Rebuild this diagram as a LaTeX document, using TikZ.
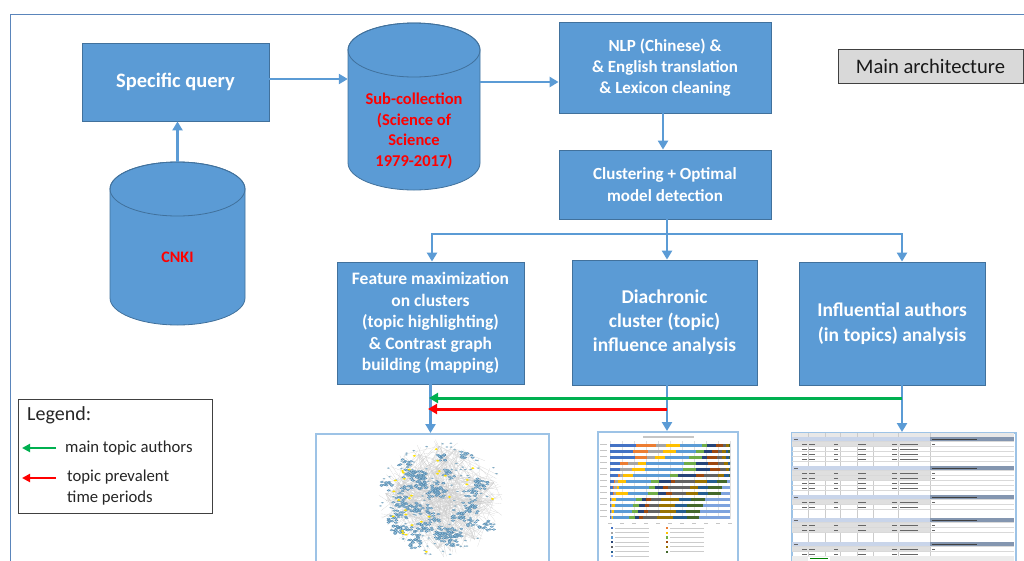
\documentclass[tikz,border=0pt]{standalone}
\usepackage{fontspec}
\setmainfont{Carlito}
\usetikzlibrary{arrows.meta}
\definecolor{boxfill}{HTML}{5B9BD5}
\definecolor{boxborder}{HTML}{41719C}
\definecolor{arrowblue}{HTML}{5B9BD5}
\definecolor{frameblue}{HTML}{5A85BB}
\definecolor{shotframe}{HTML}{9DC3E6}
\definecolor{greenarr}{HTML}{00B050}
\definecolor{redarr}{HTML}{FF0000}
\definecolor{legborder}{HTML}{404040}
\definecolor{maingrey}{HTML}{D9D9D9}
\definecolor{netblue}{HTML}{9CCBE8}
\definecolor{netdark}{HTML}{4D7FA3}
\definecolor{col1}{HTML}{4472C4}
\definecolor{col2}{HTML}{ED7D31}
\definecolor{col3}{HTML}{A5A5A5}
\definecolor{col4}{HTML}{FFC000}
\definecolor{col5}{HTML}{5B9BD5}
\definecolor{col6}{HTML}{70AD47}
\definecolor{col7}{HTML}{264478}
\definecolor{col8}{HTML}{9E480E}
\definecolor{col9}{HTML}{636363}
\definecolor{col10}{HTML}{997300}
\definecolor{col11}{HTML}{255E91}
\definecolor{col12}{HTML}{43682B}
\definecolor{col13}{HTML}{7EA3DE}
\definecolor{tabhead}{HTML}{C9D5EA}
\definecolor{tabdark}{HTML}{8496B0}
\newcommand{\mycyl}[5]{%
  \filldraw[fill=boxfill, draw=boxborder, line width=0.8pt]
    ({#1-#4},{#2+#5}) -- ({#1-#4},{#3-#5})
    arc[start angle=180,end angle=0,x radius=#4,y radius=#5]
    -- ({#1+#4},{#2+#5})
    arc[start angle=0,end angle=-180,x radius=#4,y radius=#5] -- cycle;
  \draw[boxborder, line width=0.8pt] (#1,{#2+#5}) ellipse [x radius=#4, y radius=#5];
}
\tikzset{
  box/.style={draw=boxborder, fill=boxfill, line width=0.8pt, text=white,
    font=\bfseries, align=center, inner sep=0pt},
  arr/.style={draw=arrowblue, line width=2.6pt, -{Triangle[length=9pt,width=10pt]}},
  plainline/.style={draw=arrowblue, line width=2.6pt},
  garr/.style={draw=greenarr, line width=3pt, -{Triangle[length=9pt,width=10pt]}},
  rarr/.style={draw=redarr, line width=3pt, -{Triangle[length=9pt,width=10pt]}},
  legarr/.style={line width=2.5pt, -{Triangle[length=8pt,width=8pt]}},
  shot/.style={draw=shotframe, line width=1.6pt, inner sep=0pt, anchor=north west},
  redtxt/.style={text=redarr, font=\bfseries, align=center, inner sep=0pt}
}
\begin{document}
\begin{tikzpicture}[x=1pt,y=-1pt]
\useasboundingbox (0,0) rectangle (1024,560);
% outer frame
\draw[frameblue, line width=1.3pt] (10.5,565) -- (10.5,14.5) -- (1030,14.5);

% cylinders
\mycyl{414}{23}{190}{66}{27}
\mycyl{177.5}{162}{325}{67.5}{27}
\node[inner sep=0, minimum width=132, minimum height=167] (sub) at (414,106.5) {};
\node[inner sep=0, minimum width=135, minimum height=163] (cnki) at (177.5,243.5) {};
\node[redtxt, font=\bfseries\fontsize{16.5}{20.7}\selectfont] (subtxt) at (414,131)
  {Sub-collection\\(Science of\\Science\\1979-2017)};
\node[redtxt, font=\bfseries\fontsize{16}{19}\selectfont] (cnkitxt) at (177.5,257) {CNKI};

% boxes
\node[box, minimum width=187, minimum height=78, font=\bfseries\fontsize{20.5}{24}\selectfont]
  (spec) at (175.5,82) {Specific query};
\node[box, minimum width=212, minimum height=91, font=\bfseries\fontsize{17}{21}\selectfont]
  (nlp) at (665,67.5) {NLP (Chinese) \&\\\& English translation\\\& Lexicon cleaning};
\node[box, minimum width=212, minimum height=69, font=\bfseries\fontsize{17}{22}\selectfont]
  (clus) at (665,184.5) {Clustering + Optimal\\model detection};
\node[box, minimum width=187, minimum height=122, font=\bfseries\fontsize{17.5}{21.6}\selectfont]
  (feat) at (430.5,323) {Feature maximization\\on clusters\\(topic highlighting)\\\& Contrast graph\\building (mapping)};
\node[box, minimum width=185, minimum height=125, font=\bfseries\fontsize{19.5}{24}\selectfont]
  (diac) at (664.5,322.5) {Diachronic\\cluster (topic)\\influence analysis};
\node[box, minimum width=186, minimum height=123, font=\bfseries\fontsize{19.5}{25}\selectfont]
  (infl) at (892,323.5) {Influential authors\\(in topics) analysis};

% main architecture
\node[draw=legborder, fill=maingrey, line width=0.8pt, minimum width=185, minimum height=34,
  inner sep=0pt, text=black!90, font=\fontsize{20.6}{24}\selectfont] (mainarch) at (930.5,66) {Main architecture};

% connectors top
\coordinate (ya) at (0,79);
\coordinate (yb) at (0,82);
\draw[arr] (spec.east |- ya) -- (sub.west |- ya);
\draw[arr] (sub.east |- yb) -- (nlp.west |- yb);
\draw[arr] (cnki.north) -- (cnki.north |- spec.south);
\draw[arr] (nlp.south -| 663,0) -- (clus.north -| 663,0);

% branch
\coordinate (br) at (667,234);
\coordinate (brL) at (432,234);
\coordinate (brR) at (902,234);
\draw[plainline] (br |- clus.south) -- (br);
\draw[plainline, line cap=rect] (brL) -- (brR);
\draw[arr] (brL) -- (brL |- feat.north);
\draw[arr] (br) -- (br |- diac.north);
\draw[arr] (brR) -- (brR |- infl.north);

% screenshots frames
\node[shot, minimum width=233, minimum height=140] (net) at (315,433) {};
\node[shot, minimum width=140, minimum height=140] (chart) at (597,431) {};
\node[shot, minimum width=224, minimum height=140] (table) at (791,432) {};

% lower connectors
\draw[arr] (feat.south) -- (feat.south |- net.north);
\draw[arr] (br |- diac.south) -- (br |- chart.north);
\draw[arr] (brR |- infl.south) -- (brR |- table.north);
\coordinate (gy) at (0,398);
\coordinate (ry) at (0,409);
\coordinate (gend) at (429,398);
\coordinate (rend) at (428,409);
\draw[garr] (brR |- gy) -- (gend);
\draw[rarr] (br |- ry) -- (rend);

% legend
\node[draw=legborder, fill=white, line width=0.8pt, minimum width=194, minimum height=114,
  inner sep=0pt, anchor=north west] (legend) at (18,399) {};
\node[anchor=west, inner sep=0pt, text=black!85, font=\fontsize{20}{22}\selectfont] (legtitle) at (27,415) {Legend:};
\coordinate (lg1) at (56,448);
\coordinate (lg2) at (22,448);
\coordinate (lr1) at (56,478);
\coordinate (lr2) at (22,478);
\draw[legarr, greenarr] (lg1) -- (lg2);
\draw[legarr, redarr] (lr1) -- (lr2);
\node[anchor=west, inner sep=0pt, text=black!85, font=\fontsize{16.7}{20}\selectfont] (legg) at (65,448) {main topic authors};
\node[anchor=west, inner sep=0pt, align=left, text=black!85, font=\fontsize{16.7}{20.5}\selectfont] (legr) at (67,487.5) {topic prevalent\\time periods};

% ---------- network screenshot ----------
\begin{scope}
\clip (317,435) rectangle (546,562);
\pgfmathsetseed{11}
\foreach \i in {1,...,32}{
  \pgfmathsetmacro{\ra}{56*sqrt(rnd)}
  \pgfmathsetmacro{\aa}{360*rnd}
  \pgfmathsetmacro{\hx}{441+\ra*cos(\aa)}
  \pgfmathsetmacro{\hy}{498+0.93*\ra*sin(\aa)}
  \foreach \j in {1,...,12}{
    \pgfmathsetmacro{\rb}{64*sqrt(rnd)}
    \pgfmathsetmacro{\ab}{360*rnd}
    \draw[gray!40, line width=0.12pt] (\hx,\hy) -- ({441+\rb*cos(\ab)},{498+0.93*\rb*sin(\ab)});
  }
}
\foreach \i in {1,...,48}{
  \pgfmathsetmacro{\ra}{58*sqrt(rnd)}
  \pgfmathsetmacro{\aa}{360*rnd}
  \pgfmathsetmacro{\cx}{441+\ra*cos(\aa)}
  \pgfmathsetmacro{\cy}{498+0.93*\ra*sin(\aa)}
  \foreach \j in {1,...,12}{
    \filldraw[fill=netblue, draw=netdark, line width=0.25pt]
      ({\cx+13*rnd-6.5},{\cy+9*rnd-4.5}) ellipse [x radius=1.7, y radius=0.9];
  }
}
\foreach \i in {1,...,130}{
  \pgfmathsetmacro{\ra}{62*sqrt(rnd)}
  \pgfmathsetmacro{\aa}{360*rnd}
  \fill[netblue!85!black] ({441+\ra*cos(\aa)},{498+0.93*\ra*sin(\aa)}) ellipse [x radius=1.5, y radius=0.7];
}
\foreach \i in {1,...,30}{
  \pgfmathsetmacro{\ra}{60*sqrt(rnd)}
  \pgfmathsetmacro{\aa}{360*rnd}
  \fill[yellow!85!orange] ({441+\ra*cos(\aa)},{498+0.93*\ra*sin(\aa)}) ellipse [x radius=1.7, y radius=1];
}
\end{scope}

% ---------- bar chart screenshot ----------
\fill[gray!45] (643,436) rectangle (694,437.5);
\foreach \g in {0,...,10}{
  \draw[gray!25, line width=0.2pt] ({610+12*\g},441) -- ({610+12*\g},519);
  \fill[gray!45] ({608+12*\g},522.5) rectangle ++(4,1.1);
}
\foreach \row [count=\k] in {
 {26,20,10,14,22,5,9,7,3,3,0,1,0},
 {23,15,15,13,20,8,8,6,4,4,2,2,0},
 {25,12,8,10,24,13,5,10,5,4,3,1,0},
 {10,8,10,8,38,12,12,10,6,4,2,0,0},
 {10,0,12,13,38,13,14,10,6,3,1,0,0},
 {8,2,3,10,37,8,18,8,14,6,5,1,0},
 {4,1,3,8,25,8,12,4,20,12,10,10,3},
 {3,1,3,2,30,6,8,5,22,8,10,14,8},
 {3,1,2,12,20,10,8,6,14,12,10,13,9},
 {1,0,1,4,20,6,4,5,10,18,12,14,25},
 {1,0,1,3,18,6,6,4,10,16,12,16,27},
 {1,0,1,2,18,6,6,4,12,16,10,14,30},
 {1,0,1,1,16,6,4,4,14,16,14,12,31}}{
  \fill[gray!45] (600,{438.2+6*\k}) rectangle ++(7,1.1);
  \xdef\xx{610}
  \foreach \w [count=\c] in \row {
    \fill[fill=col\c] (\xx,{437.5+6*\k}) rectangle ++(\w,3);
    \pgfmathparse{\xx+\w}\xdef\xx{\pgfmathresult}
  }
}
\foreach \c [count=\n from 0] in {1,...,13}{
  \pgfmathsetmacro{\lx}{611+55*mod(\n,2)}
  \pgfmathsetmacro{\ly}{527+4.7*floor(\n/2)}
  \fill[fill=col\c] (\lx,\ly) rectangle ++(2.2,2.2);
  \fill[gray!40] ({\lx+4},{\ly+0.6}) rectangle ++(34,1);
}

% ---------- table screenshot ----------
\begin{scope}
\clip (792,433) rectangle (1014,562);
\fill[gray!18] (792,433) rectangle (1014,436.5);
\foreach \x in {808,825,840,857,873,898,930}{
  \draw[gray!40, line width=0.2pt] (\x,433) -- (\x,562);
}
\fill[gray!60] (820,438) rectangle ++(7,1); \fill[gray!60] (843,438) rectangle ++(9,1); \fill[gray!60] (875,438) rectangle ++(11,1);
\foreach \y in {437,466,495,518,542}{
  \fill[tabhead] (792,\y) rectangle (930,{\y+4.5});
  \fill[tabdark] (930,\y) rectangle (1014,{\y+4.5});
  \fill[black!75] (932,{\y+1.6}) rectangle ++(45,1.3);
  \fill[black!60] (794,{\y+1.6}) rectangle ++(4,1.3);
}
\foreach \y/\s in {442/1,447/0,452/0,457/0,471/1,476/1,481/0,486/0,500/1,505/0,523/1,528/1,547/1,552/0}{
  \ifnum\s=1 \fill[gray!25] (792,\y) rectangle (930,{\y+4.5}); \fi
  \fill[black!60] (802,{\y+1.6}) rectangle ++(5,1.2);
  \fill[black!60] (809,{\y+1.6}) rectangle ++(6,1.2);
  \fill[black!60] (834,{\y+1.6}) rectangle ++(4,1.2);
  \fill[black!60] (858,{\y+1.6}) rectangle ++(8,1.2);
  \fill[black!60] (892,{\y+1.6}) rectangle ++(5,1.2);
  \fill[black!60] (900,{\y+1.6}) rectangle ++(18,1.2);
  \ifnum\s=1 \fill[black!60] (932,{\y+1.6}) rectangle ++(3,1.2); \fi
}
\foreach \y in {441.5,446.5,451.5,456.5,461.5,470.5,475.5,480.5,485.5,490.5,499.5,504.5,509.5,522.5,527.5,532.5,546.5,551.5}{
  \draw[gray!30, line width=0.2pt] (792,\y) -- (1014,\y);
}
\fill[gray!15] (792,556) rectangle (1014,562);
\fill[white] (808,556.5) rectangle (830,562);
\fill[green!50!black] (810,557.5) rectangle ++(18,1.2);
\end{scope}
\end{tikzpicture}
\end{document}
